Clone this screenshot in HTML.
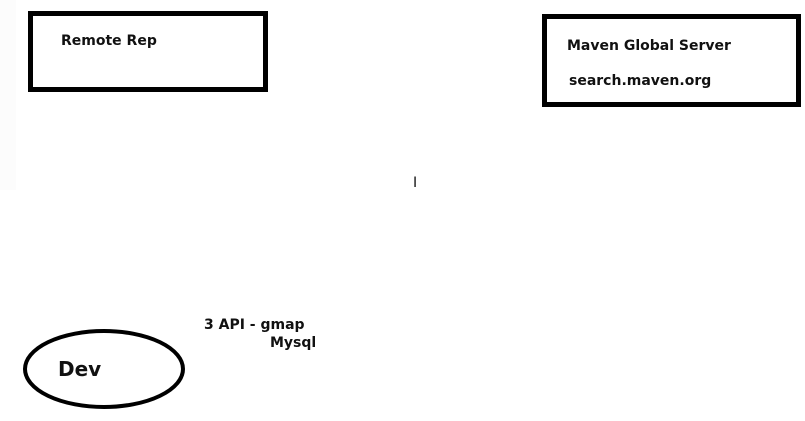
<!DOCTYPE html>
<html><head><meta charset="utf-8"><style>
html,body{margin:0;padding:0;background:#fff;}
svg{display:block;}
text{font-family:"DejaVu Sans","Liberation Sans",sans-serif;font-weight:bold;fill:#111;}
</style></head><body>
<svg width="805" height="421" xmlns="http://www.w3.org/2000/svg">
<rect x="0" y="0" width="805" height="421" fill="#fff"/>
<rect x="0" y="0" width="16" height="190" fill="#fcfcfc"/>
<rect x="30.5" y="13.5" width="235" height="76" fill="#fff" stroke="#000" stroke-width="5"/>
<text x="61" y="45" font-size="14">Remote Rep</text>
<rect x="544.5" y="16.5" width="254" height="88" fill="#fff" stroke="#000" stroke-width="5"/>
<text x="567" y="50" font-size="14">Maven Global Server</text>
<text x="569" y="85" font-size="14">search.maven.org</text>
<text x="413" y="187" font-size="14" font-weight="normal" style="font-weight:normal" fill="#333">I</text>
<ellipse cx="104" cy="369" rx="79" ry="38" fill="none" stroke="#000" stroke-width="4"/>
<text x="58" y="376" font-size="20">Dev</text>
<text x="204" y="329" font-size="14">3 API - gmap</text>
<text x="270" y="347" font-size="14">Mysql</text>
</svg>
</body></html>
